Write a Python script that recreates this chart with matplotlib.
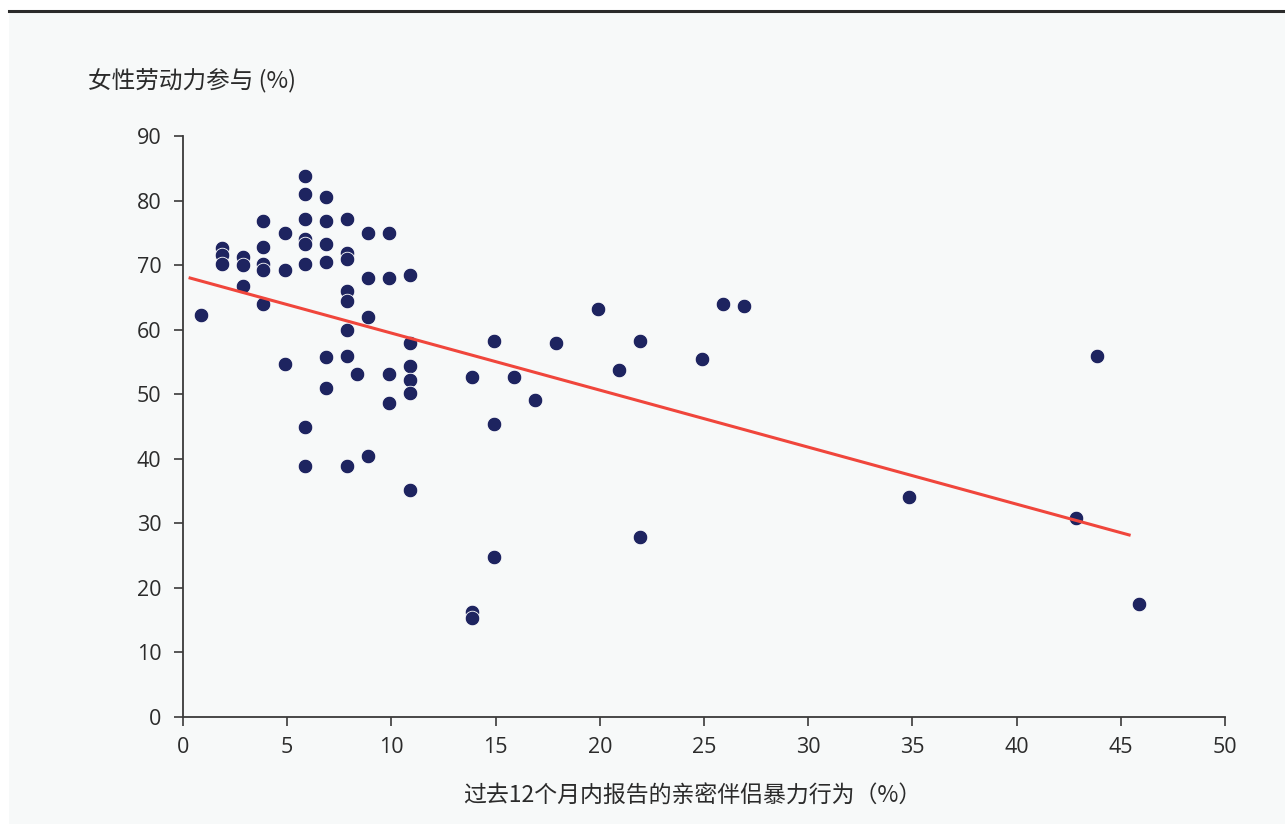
import matplotlib.pyplot as plt
from matplotlib.patches import Rectangle
from matplotlib.lines import Line2D

plt.rcParams['font.family'] = ['Open Sans', 'Noto Sans CJK SC', 'DejaVu Sans']

# 亲密伴侣暴力 (%) 与女性劳动力参与 (%)
ipv = [0.88, 1.88, 1.88, 1.88, 2.88, 2.88, 2.88, 3.85, 3.85, 3.85, 3.85, 3.85, 4.88, 4.88, 4.88,
       5.86, 5.86, 5.86, 5.86, 5.86, 5.86, 5.86, 5.86,
       6.87, 6.87, 6.87, 6.87, 6.87, 6.87,
       7.87, 7.87, 7.87, 7.87, 7.87, 7.87, 7.87, 7.87, 8.35,
       8.87, 8.87, 8.87, 8.87, 9.88, 9.88, 9.88, 9.88,
       10.9, 10.9, 10.9, 10.9, 10.9, 10.9,
       13.88, 13.88, 13.88, 14.9, 14.9, 14.9, 15.88, 16.89, 17.9, 19.9, 20.92, 21.92, 21.92,
       24.9, 25.9, 26.9, 34.84, 42.85, 43.86, 45.87]
lfp = [62.3, 72.6, 71.5, 70.1, 71.3, 70.0, 66.7, 76.9, 72.8, 70.1, 69.2, 64.0, 74.9, 69.2, 54.7,
       83.8, 81.0, 77.2, 74.0, 73.3, 70.1, 44.9, 38.9,
       80.6, 76.9, 73.3, 70.5, 55.8, 51.0,
       77.2, 71.8, 70.9, 66.0, 64.4, 59.9, 55.9, 38.9, 53.1,
       74.9, 68.0, 62.0, 40.4, 74.9, 68.0, 53.1, 48.6,
       68.5, 57.9, 54.3, 52.2, 50.2, 35.2,
       52.7, 16.3, 15.3, 58.2, 45.4, 24.8, 52.7, 49.1, 57.9, 63.2, 53.7, 58.2, 27.9,
       55.5, 64.0, 63.7, 34.1, 30.8, 55.9, 17.5]

# 线性趋势线端点
trend_x = [0.34, 45.4]
trend_y = [68.0, 28.2]

x_ticks = [0, 5, 10, 15, 20, 25, 30, 35, 40, 45, 50]
y_ticks = [0, 10, 20, 30, 40, 50, 60, 70, 80, 90]

fig = plt.figure(figsize=(12.85, 8.24), dpi=100)
fig.patch.set_facecolor('white')

# 浅灰背景面板和顶部深色线
fig.add_artist(Rectangle((9 / 1285, 0), 1, (824 - 11) / 824,
                         transform=fig.transFigure, facecolor='#f7f9f9',
                         edgecolor='none', zorder=-10))
fig.add_artist(Line2D([9 / 1285, 1], [1 - 11 / 824, 1 - 11 / 824],
                      transform=fig.transFigure, color='#2b2b2b', linewidth=2.2,
                      zorder=-5))

ax = fig.add_axes([183 / 1285, 1 - 717 / 824, (1225 - 183) / 1285, (717 - 136) / 824])
ax.set_facecolor('none')

ax.scatter(ipv, lfp, s=110, color='#1e2460', edgecolors='white', linewidths=0.6,
           zorder=3, clip_on=False)
ax.plot(trend_x, trend_y, color='#f0463c', linewidth=2.2, zorder=4)

ax.set_xlim(0, 50)
ax.set_ylim(0, 90)
ax.set_xticks(x_ticks)
ax.set_yticks(y_ticks)

for side in ['top', 'right']:
    ax.spines[side].set_visible(False)
for side in ['left', 'bottom']:
    ax.spines[side].set_color('#3a3a3a')
    ax.spines[side].set_linewidth(1.3)

ax.tick_params(axis='both', direction='out', length=6.5, width=1.2, color='#3a3a3a',
               labelsize=15.5, labelcolor='#2b2b2b')
ax.tick_params(axis='x', pad=8)
ax.tick_params(axis='y', pad=9)

fig.text(88 / 1285, 1 - 80 / 824, '女性劳动力参与 (%)', fontsize=17, color='#2b2b2b',
         ha='left', va='center', family=['Noto Sans CJK SC', 'DejaVu Sans'])
fig.text(692 / 1285, 1 - 796 / 824, '过去12个月内报告的亲密伴侣暴力行为（%）', fontsize=16.5,
         color='#2b2b2b', ha='center', va='center',
         family=['Noto Sans CJK SC', 'DejaVu Sans'])

fig.savefig('out.png', dpi=100)
